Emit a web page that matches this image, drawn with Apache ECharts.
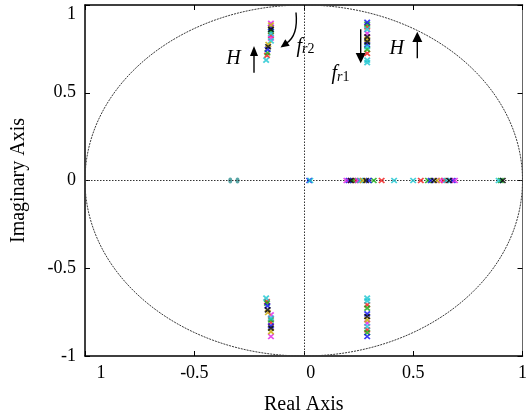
<!DOCTYPE html>
<html>
<head>
<meta charset="utf-8">
<script src="https://cdn.jsdelivr.net/npm/echarts@6/dist/echarts.min.js"></script>
<style>html,body{margin:0;padding:0;background:#fff}#c{width:530px;height:420px}</style>
</head>
<body>
<div id="c"></div>
<script>
// ---- data (real, imaginary) ----
const seriesNames = ['red', 'green', 'blue', 'magenta', 'cyan', 'yellow', 'black'];
const polesRed = [[-0.150, 0.826], [-0.168, 0.713], [0.290, 0.875], [0.290, 0.724],
  [-0.168, -0.690], [-0.150, -0.809], [0.290, -0.709], [0.290, -0.851],
  [0.237, 0], [0.356, 0], [0.535, 0], [0.640, 0]];
const polesGreen = [[-0.150, 0.851], [-0.166, 0.728], [0.290, 0.891], [0.290, 0.747],
  [-0.168, -0.699], [-0.150, -0.794], [0.290, -0.727], [0.290, -0.867],
  [0.225, 0], [0.320, 0], [0.568, 0], [0.901, 0]];
const polesBlue = [[-0.150, 0.872], [-0.165, 0.747], [0.290, 0.902], [0.290, 0.775],
  [-0.166, -0.714], [-0.150, -0.828], [0.290, -0.760], [0.290, -0.889],
  [0.025, 0], [0.205, 0], [0.297, 0], [0.580, 0], [0.681, 0]];
const polesMagenta = [[-0.150, 0.895], [-0.150, 0.811], [0.290, 0.838],
  [-0.150, -0.766], [-0.150, -0.889], [0.290, -0.813],
  [0.195, 0], [0.248, 0], [0.625, 0], [0.691, 0]];
const polesCyan = [[-0.150, 0.838], [-0.150, 0.796], [-0.172, 0.686],
  [0.290, 0.861], [0.290, 0.762], [0.290, 0.686], [0.290, 0.672],
  [-0.172, -0.670], [-0.150, -0.784], [0.290, -0.670], [0.290, -0.686], [0.290, -0.832],
  [0.030, 0], [0.258, 0], [0.413, 0], [0.500, 0], [0.652, 0], [0.891, 0]];
const polesYellow = [[-0.150, 0.885], [-0.162, 0.775], [0.290, 0.804],
  [-0.164, -0.752], [-0.150, -0.861], [0.290, -0.794],
  [0.270, 0], [0.610, 0]];
const polesBlack = [[-0.150, 0.861], [-0.163, 0.762], [0.290, 0.818], [0.290, 0.790],
  [-0.165, -0.737], [-0.150, -0.841], [0.290, -0.775],
  [0.215, 0], [0.285, 0], [0.595, 0], [0.665, 0], [0.910, 0]];
const zerosTeal = [[-0.336, 0], [-0.303, 0]];
const unitCircle = [[0, 0, 1]]; // centre re, centre im, radius

const xTicks = [-1, -0.5, 0, 0.5, 1];
const xTickLabels = ['1', '-0.5', '0', '0.5', '1'];
const yTicks = [-1, -0.5, 0, 0.5, 1];
const yTickLabels = ['-1', '-0.5', '0', '0.5', '1'];

// ---- chart ----
const poleSets = [polesRed, polesGreen, polesBlue, polesMagenta, polesCyan, polesYellow, polesBlack];
const colors = ['#f01414', '#10a810', '#0a0af0', '#e020e6', '#18c4d0', '#c8aa00', '#000000'];
const FONT = '"Liberation Serif", "Times New Roman", serif';
const chart = echarts.init(document.getElementById('c'), null, {renderer: 'canvas'});

function idxOf(arr, v) { return arr.findIndex(t => Math.abs(t - v) < 1e-9); }

const crossPath = 'path://M0,0L10,10M0,10L10,0';
const poleSeries = poleSets.map((d, i) => ({
  name: seriesNames[i],
  type: 'scatter',
  data: d,
  symbol: crossPath,
  symbolSize: [5.5, 5],
  itemStyle: {color: 'none', borderColor: colors[i], borderWidth: 1.7},
  z: 5
}));

const baseLabel = {fontFamily: FONT, fontSize: 18, color: '#000'};

const option = {
  animation: false,
  backgroundColor: '#fff',
  grid: {left: 85, right: 1, top: 5, bottom: 64},
  xAxis: [{
    type: 'value', min: -1, max: 1, interval: 0.5, position: 'bottom',
    axisLine: {show: true, onZero: false, lineStyle: {color: '#000', width: 1.5}},
    axisTick: {show: true, inside: true, length: 5, lineStyle: {color: '#000', width: 1}},
    splitLine: {show: false},
    axisLabel: {
      margin: 8,
      formatter: v => {
        const i = idxOf(xTicks, v);
        const style = i === 0 ? 'l' : (i === 2 ? 'z' : 'n');
        return '{' + style + '|' + xTickLabels[i] + '}';
      },
      rich: {
        n: baseLabel,
        l: Object.assign({}, baseLabel, {padding: [0, 0, 0, 32]}),
        z: Object.assign({}, baseLabel, {padding: [0, 0, 0, 14]})
      }
    },
    name: 'Real Axis', nameLocation: 'middle', nameGap: 39,
    nameTextStyle: {fontFamily: FONT, fontSize: 20, color: '#000'}
  }, {
    type: 'value', min: -1, max: 1, interval: 0.5, position: 'top',
    axisLine: {show: true, onZero: false, lineStyle: {color: '#000', width: 1.5}},
    axisTick: {show: true, inside: true, length: 5, lineStyle: {color: '#000', width: 1}},
    splitLine: {show: false}, axisLabel: {show: false}
  }],
  yAxis: [{
    type: 'value', min: -1, max: 1, interval: 0.5, position: 'left',
    axisLine: {show: true, onZero: false, lineStyle: {color: '#000', width: 1.5}},
    axisTick: {show: true, inside: true, length: 5, lineStyle: {color: '#000', width: 1}},
    splitLine: {show: false},
    axisLabel: {
      margin: 9,
      formatter: v => {
        const i = idxOf(yTicks, v);
        const style = i === 4 ? 'd' : 'n';
        return '{' + style + '|' + yTickLabels[i] + '}';
      },
      rich: {
        n: baseLabel,
        d: Object.assign({}, baseLabel, {padding: [19, 0, 0, 0]})
      }
    },
    name: 'Imaginary Axis', nameLocation: 'middle', nameGap: 56,
    nameTextStyle: {fontFamily: FONT, fontSize: 20, color: '#000'}
  }, {
    type: 'value', min: -1, max: 1, interval: 0.5, position: 'right',
    axisLine: {show: true, onZero: false, lineStyle: {color: '#666', width: 1}},
    axisTick: {show: true, inside: true, length: 5, lineStyle: {color: '#000', width: 1}},
    splitLine: {show: false}, axisLabel: {show: false}
  }],
  series: [{
    type: 'custom',
    data: unitCircle,
    silent: true,
    z: 1,
    renderItem: (params, api) => {
      const c = api.coord([api.value(0), api.value(1)]);
      const s = api.size([api.value(2), api.value(2)]);
      return {
        type: 'ellipse',
        shape: {cx: c[0], cy: c[1], rx: s[0], ry: s[1]},
        style: {fill: 'none', stroke: '#3a3a3a', lineWidth: 1, lineDash: [2, 1]}
      };
    }
  }, {
    type: 'scatter',
    data: zerosTeal,
    symbol: 'circle',
    symbolSize: [4, 6],
    itemStyle: {color: '#2f9090'},
    z: 4,
    markLine: {
      silent: true, symbol: 'none', label: {show: false},
      lineStyle: {color: '#333', width: 1, type: [1.5, 1.5]},
      data: [{xAxis: 0}, {yAxis: 0}]
    }
  }].concat(poleSeries),
  graphic: [
    // left H and arrow
    {type: 'text', x: 233.5, y: 58.5, style: {text: 'H', font: 'italic 20px ' + FONT, fill: '#000', align: 'center', verticalAlign: 'middle'}},
    {type: 'line', shape: {x1: 254, y1: 72.7, x2: 254, y2: 53}, style: {stroke: '#000', lineWidth: 1.4}},
    {type: 'polygon', shape: {points: [[254, 46], [250, 56], [258, 56]]}, style: {fill: '#000'}},
    // curved arrow to f_r2
    {type: 'bezierCurve', shape: {x1: 296, y1: 12.5, cpx1: 297.5, cpy1: 27, cpx2: 295, cpy2: 38, x2: 286, y2: 43.5}, style: {stroke: '#000', lineWidth: 1.4, fill: 'none'}},
    {type: 'polygon', shape: {points: [[280.5, 47.5], [289.7, 45.8], [285.3, 39.2]]}, style: {fill: '#000'}},
    {type: 'text', x: 296.5, y: 46.5, style: {
      text: '{f|f}{s|r}{t|2}', align: 'left', verticalAlign: 'middle',
      rich: {
        f: {fontFamily: FONT, fontStyle: 'italic', fontSize: 20, fill: '#000', lineHeight: 20},
        s: {fontFamily: FONT, fontStyle: 'italic', fontSize: 14, fill: '#000', verticalAlign: 'bottom', lineHeight: 14},
        t: {fontFamily: FONT, fontSize: 14, fill: '#000', verticalAlign: 'bottom', lineHeight: 14}
      }}},
    // down arrow and f_r1
    {type: 'line', shape: {x1: 360.7, y1: 29.3, x2: 360.7, y2: 56}, style: {stroke: '#000', lineWidth: 1.4}},
    {type: 'polygon', shape: {points: [[360.7, 63.3], [355.7, 53], [365.7, 53]]}, style: {fill: '#000'}},
    {type: 'text', x: 331.5, y: 74, style: {
      text: '{f|f}{s|r}{t|1}', align: 'left', verticalAlign: 'middle',
      rich: {
        f: {fontFamily: FONT, fontStyle: 'italic', fontSize: 20, fill: '#000', lineHeight: 20},
        s: {fontFamily: FONT, fontStyle: 'italic', fontSize: 14, fill: '#000', verticalAlign: 'bottom', lineHeight: 14},
        t: {fontFamily: FONT, fontSize: 14, fill: '#000', verticalAlign: 'bottom', lineHeight: 14}
      }}},
    // right H and arrow
    {type: 'text', x: 396.7, y: 48.3, style: {text: 'H', font: 'italic 20px ' + FONT, fill: '#000', align: 'center', verticalAlign: 'middle'}},
    {type: 'line', shape: {x1: 417.3, y1: 58.3, x2: 417.3, y2: 40}, style: {stroke: '#000', lineWidth: 1.4}},
    {type: 'polygon', shape: {points: [[417.3, 31.7], [412.3, 42], [422.3, 42]]}, style: {fill: '#000'}}
  ]
};
chart.setOption(option);
</script>
</body>
</html>
